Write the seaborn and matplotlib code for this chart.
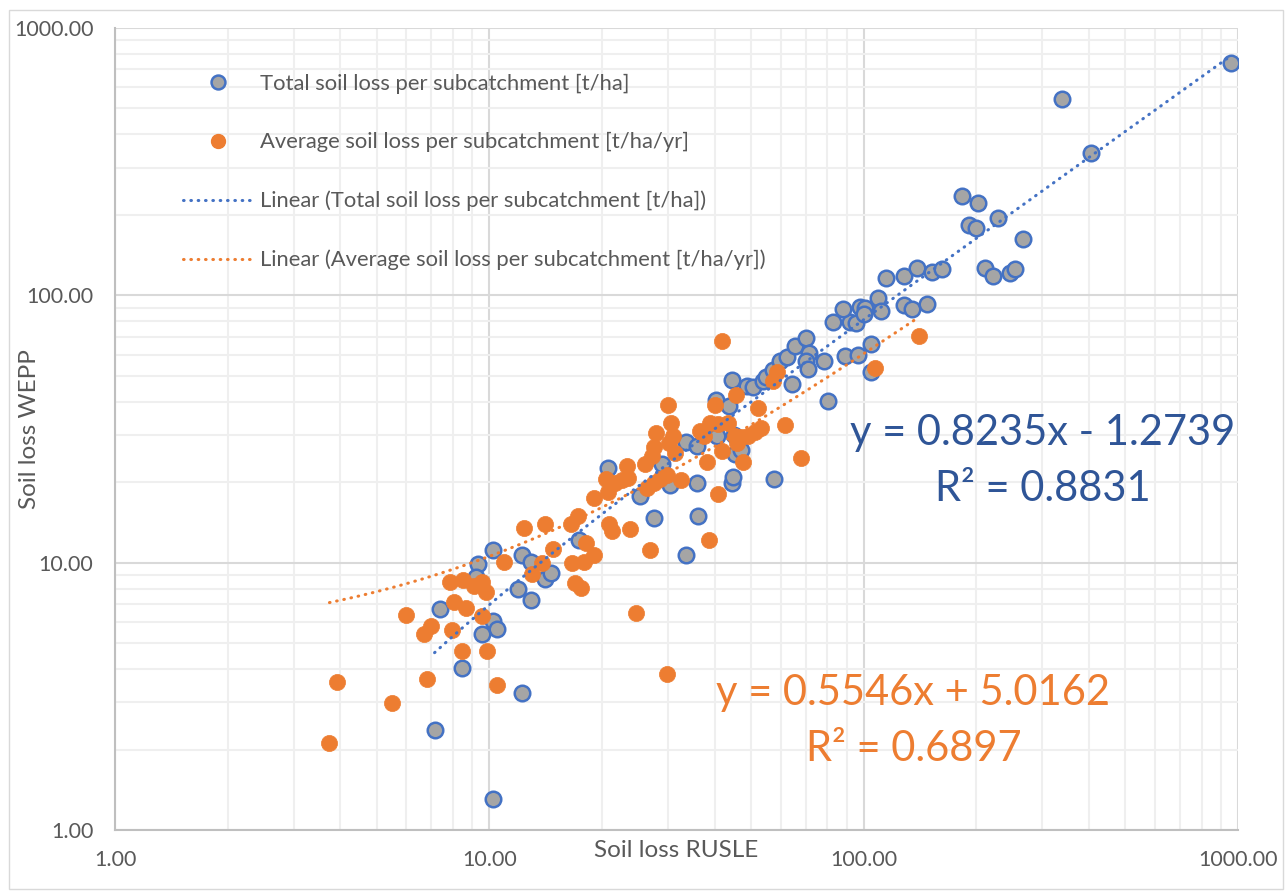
import numpy as np
import matplotlib
matplotlib.use("Agg")
import matplotlib.pyplot as plt
from matplotlib.lines import Line2D
from matplotlib.patches import Rectangle
from matplotlib.ticker import LogLocator, FixedLocator, FixedFormatter, NullFormatter
import seaborn as sns

# Total soil loss per subcatchment [t/ha]: RUSLE (x) vs WEPP (y)
total_rusle = [7.14, 10.23, 12.26, 8.46, 7.37, 10.2, 10.5, 9.58, 10.2, 9.3, 9.2,
               12.2, 12.9, 11.95, 12.9, 14.1, 14.6, 17.4, 20.8, 25.3, 27.5, 33.5,
               36.2, 30.4, 35.8, 44.6, 44.8, 57.5, 29.0, 33.5, 35.8, 40.6, 45.4,
               47.0, 45.0, 40.4, 43.8, 44.6, 48.8, 50.6, 53.9, 55.0, 57.3, 59.8,
               62.3, 65.5, 70.1, 71.5, 70.1, 71.0, 78.3, 64.5, 80.3, 89.1, 96.5,
               104.4, 104.5, 83.0, 92.0, 95.5, 88.0, 98.0, 101.0, 100.0, 109.0,
               111.0, 128.0, 135.0, 148.0, 115.0, 128.0, 139.0, 152.0, 162.0,
               183.0, 202.0, 228.0, 191.0, 200.0, 267.0, 211.0, 222.0, 246.0,
               253.0, 338.0, 405.0, 959.0]
total_wepp = [2.37, 1.31, 3.25, 4.02, 6.72, 6.05, 5.67, 5.43, 11.2, 9.88, 8.85,
              10.7, 10.1, 7.95, 7.24, 8.67, 9.18, 12.2, 22.6, 17.7, 14.7, 10.7,
              15.0, 19.6, 19.8, 19.8, 21.0, 20.5, 23.4, 28.3, 27.2, 29.8, 25.5,
              26.5, 30.0, 40.5, 38.7, 48.3, 45.9, 45.4, 48.0, 49.7, 52.4, 56.9,
              59.0, 64.6, 69.5, 60.7, 56.6, 53.0, 56.9, 46.7, 40.4, 59.3, 59.9,
              65.6, 51.6, 79.8, 79.6, 79.0, 89.0, 90.7, 90.0, 85.0, 97.8,
              87.7, 92.0, 88.7, 93.0, 116.0, 118.0, 127.0, 122.0, 126.0,
              236.0, 221.0, 194.0, 183.0, 178.0, 163.0, 127.0, 118.6, 121.0,
              126.0, 543.0, 342.0, 738.0]

# Average soil loss per subcatchment [t/ha/yr]: RUSLE (x) vs WEPP (y)
avg_rusle = [3.74, 3.92, 5.5, 6.0, 6.83, 6.97, 6.7, 7.85, 8.5, 9.08, 9.55, 9.82,
             8.05, 8.66, 7.94, 9.57, 8.45, 9.87, 10.47, 10.96, 12.37, 14.1, 13.0,
             13.8, 14.8, 16.65, 17.9, 19.05, 18.1, 17.3, 16.5, 16.9, 17.6, 19.0,
             20.9, 21.3, 23.7, 26.9, 24.7, 29.8, 38.6, 40.8, 32.6, 20.5, 21.7,
             22.6, 23.5, 20.7, 23.3, 26.0, 27.5, 26.3, 27.5, 28.6, 29.8, 38.1,
             41.9, 30.1, 30.6, 27.9, 31.0, 30.2, 31.3, 27.2, 36.6, 38.9, 40.7,
             43.3, 37.4, 45.4, 47.1, 49.1, 51.3, 53.3, 46.0, 47.6, 41.9, 45.5,
             40.1, 52.2, 61.5, 68.0, 58.5, 57.1, 107.5, 140.7]
avg_wepp = [2.11, 3.59, 2.98, 6.35, 3.66, 5.81, 5.42, 8.5, 8.6, 8.2, 8.5, 7.8,
            7.13, 6.75, 5.58, 6.33, 4.69, 4.69, 3.5, 10.07, 13.5, 14.0, 9.05,
            9.93, 11.25, 9.95, 10.05, 10.7, 11.8, 15.0, 14.0, 8.4, 8.03, 17.4,
            14.0, 13.1, 13.35, 11.2, 6.5, 3.83, 12.2, 18.0, 20.4, 20.5, 19.9,
            20.3, 20.7, 18.4, 23.0, 23.3, 27.0, 19.0, 19.9, 20.6, 21.2, 23.7,
            26.1, 38.8, 33.4, 30.5, 29.8, 28.0, 25.8, 25.0, 31.0, 33.3, 33.0,
            33.2, 29.8, 29.8, 29.6, 29.8, 30.7, 31.8, 28.0, 23.9, 67.2, 42.5,
            38.8, 37.9, 32.8, 24.6, 51.7, 47.8, 53.4, 70.2]

# Linear trendline coefficients
total_slope, total_intercept, total_r2 = 0.8235, -1.2739, 0.8831
avg_slope, avg_intercept, avg_r2 = 0.5546, 5.0162, 0.6897

tick_values = [1, 10, 100, 1000]
tick_labels = ["1.00", "10.00", "100.00", "1000.00"]

series_names = ["Total soil loss per subcatchment [t/ha]",
                "Average soil loss per subcatchment [t/ha/yr]"]

BLUE = "#4472C4"
GREY = "#A5A5A5"
ORANGE = "#ED7D31"
TEXT = "#595959"
EQ_BLUE = "#2F5597"

sns.set_theme(style="white")
plt.rcParams["font.family"] = ["Lato", "DejaVu Sans"]

W, H = 1285, 896
fig = plt.figure(figsize=(W / 100, H / 100), dpi=100)
fig.patch.set_facecolor("white")
ax = fig.add_axes([115 / W, 1 - 830 / H, 1123 / W, 802 / H])

ax.set_xscale("log")
ax.set_yscale("log")
ax.set_xlim(1, 1000)
ax.set_ylim(1, 1000)

for axis in (ax.xaxis, ax.yaxis):
    axis.set_major_locator(FixedLocator(tick_values))
    axis.set_major_formatter(FixedFormatter(tick_labels))
    axis.set_minor_locator(LogLocator(base=10, subs=np.arange(2, 10), numticks=30))
    axis.set_minor_formatter(NullFormatter())

ax.set_axisbelow(True)
ax.grid(which="minor", color="#efefef", lw=1.5)
ax.grid(which="major", color="#d9d9d9", lw=1.5)

for side in ("top", "right"):
    ax.spines[side].set_visible(False)
for side in ("left", "bottom"):
    ax.spines[side].set_color("#bfbfbf")
    ax.spines[side].set_linewidth(1.5)

ax.tick_params(which="minor", length=0)
ax.tick_params(which="major", length=4.5, width=1.2, color="#bfbfbf",
               labelsize=15.5, labelcolor=TEXT)
ax.tick_params(axis="x", which="major", pad=10)
ax.tick_params(axis="y", which="major", pad=11)

# Scatter series
sns.scatterplot(x=total_rusle, y=total_wepp, ax=ax, s=125, color=GREY,
                edgecolor=BLUE, linewidth=1.8, zorder=3, legend=False)
sns.scatterplot(x=avg_rusle, y=avg_wepp, ax=ax, s=135, color=ORANGE,
                edgecolor=ORANGE, linewidth=0.5, zorder=4, legend=False)

# Linear trendlines over each series' x range
dot_style = (0, (0.2, 2.2))
xs_t = np.geomspace(min(total_rusle), max(total_rusle), 300)
ax.plot(xs_t, total_slope * xs_t + total_intercept, color=BLUE, lw=2.2,
        ls=dot_style, dash_capstyle="round", zorder=5)
xs_a = np.geomspace(min(avg_rusle), max(avg_rusle), 300)
ax.plot(xs_a, avg_slope * xs_a + avg_intercept, color=ORANGE, lw=2.2,
        ls=dot_style, dash_capstyle="round", zorder=5)

# Axis titles
ax.set_xlabel("Soil loss RUSLE", fontsize=17.5, color=TEXT)
ax.xaxis.set_label_coords(0.5, -0.026)
ax.xaxis.label.set_va("center")
ax.set_ylabel("Soil loss WEPP", fontsize=17.5, color=TEXT)
ax.yaxis.set_label_coords(-0.0757, 0.5)
ax.yaxis.label.set_va("center")

# Legend
handles = [
    Line2D([], [], ls="", marker="o", markersize=10, mfc=GREY, mec=BLUE, mew=1.8),
    Line2D([], [], ls="", marker="o", markersize=10, mfc=ORANGE, mec=ORANGE),
    Line2D([], [], color=BLUE, lw=2.2, ls=dot_style, dash_capstyle="round"),
    Line2D([], [], color=ORANGE, lw=2.2, ls=dot_style, dash_capstyle="round"),
]
labels = [series_names[0], series_names[1],
          f"Linear ({series_names[0]})", f"Linear ({series_names[1]})"]
leg = ax.legend(handles, labels, loc="upper left", bbox_to_anchor=(0.0606, 0.943),
                frameon=False, fontsize=15.8, handlelength=3.2, handletextpad=0.3,
                labelspacing=1.75, borderpad=0, borderaxespad=0)
for t in leg.get_texts():
    t.set_color(TEXT)

# Trendline equations
ax.text(0.826, 0.46,
        f"y = {total_slope:.4f}x - {abs(total_intercept):.4f}\nR² = {total_r2:.4f}",
        transform=ax.transAxes, ha="center", va="center", multialignment="center",
        fontsize=30, color=EQ_BLUE, linespacing=1.6, zorder=6)
ax.text(0.711, 0.136,
        f"y = {avg_slope:.4f}x + {avg_intercept:.4f}\nR² = {avg_r2:.4f}",
        transform=ax.transAxes, ha="center", va="center", multialignment="center",
        fontsize=30, color=ORANGE, linespacing=1.6, zorder=6)

# Chart area border
fig.patches.append(Rectangle((9 / W, 1 - 889 / H), (1283 - 9) / W, (889 - 10) / H,
                             transform=fig.transFigure, fill=False,
                             edgecolor="#d9d9d9", lw=1))

fig.savefig("out.png", dpi=100, facecolor="white")
